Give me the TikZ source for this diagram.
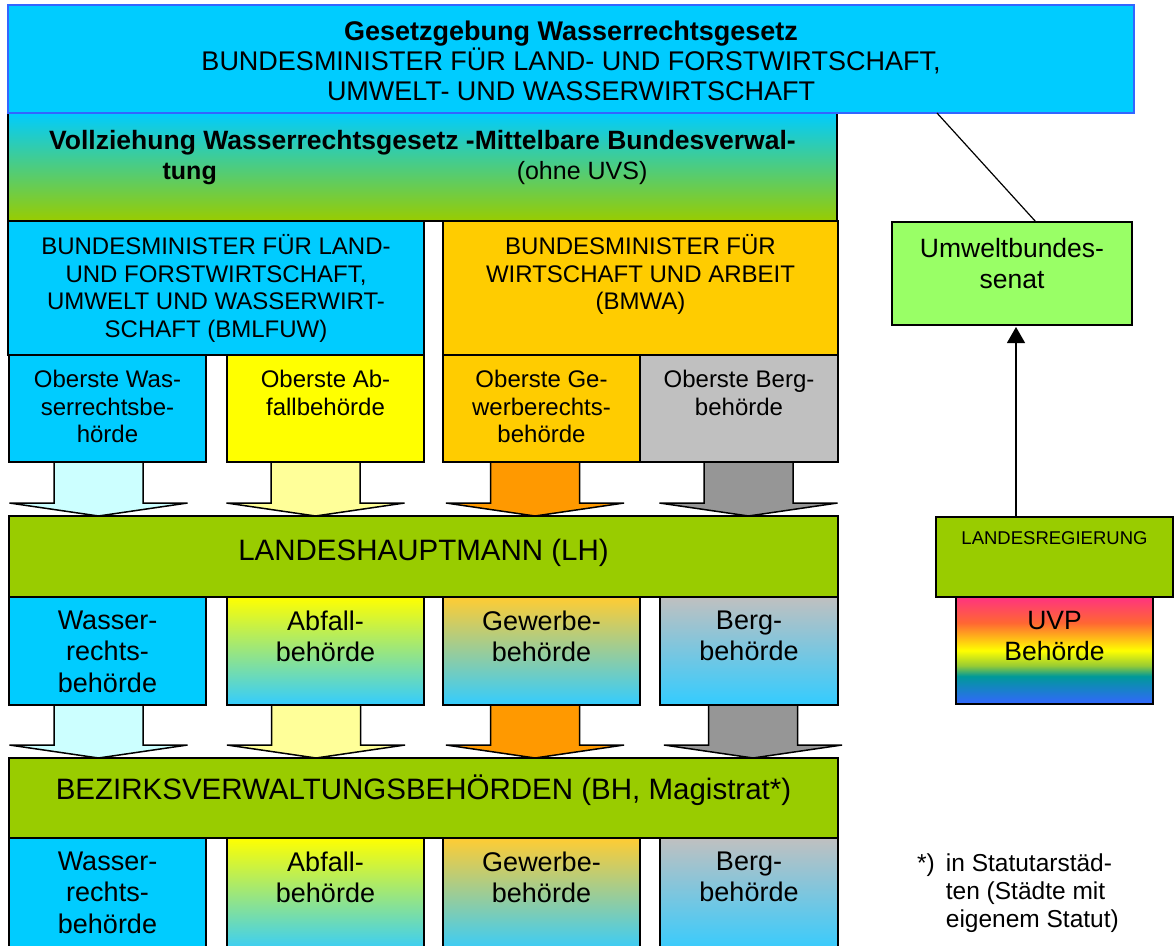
\documentclass[tikz,border=0pt]{standalone}
\usepackage{fontspec}
\setmainfont{Liberation Sans}
\usetikzlibrary{positioning,calc,arrows.meta}

\definecolor{wasserblau}{HTML}{00CCFF}
\definecolor{randblau}{HTML}{3366FF}
\definecolor{gruen}{HTML}{99CC00}
\definecolor{hellgruen}{HTML}{99FF66}
\definecolor{gelb}{HTML}{FFFF00}
\definecolor{gewerbe}{HTML}{FFCC00}
\definecolor{gewerbeoben}{HTML}{FFCC33}
\definecolor{berggrau}{HTML}{C0C0C0}
\definecolor{verlaufblau}{HTML}{33CCFF}
\definecolor{pfeilblau}{HTML}{CCFFFF}
\definecolor{pfeilgelb}{HTML}{FFFF99}
\definecolor{pfeilorange}{HTML}{FF9900}
\definecolor{pfeilgrau}{HTML}{969696}
\definecolor{rbpink}{HTML}{FF3380}
\definecolor{rborange}{HTML}{FF6633}
\definecolor{rbgruen}{HTML}{99CC33}
\definecolor{rbteal}{HTML}{009999}
\definecolor{rbblau}{HTML}{3366FF}

\pgfdeclareverticalshading{regenbogen}{100bp}{color(0bp)=(rbblau); color(25bp)=(rbblau);
  color(38bp)=(rbteal); color(43bp)=(rbgruen); color(50bp)=(gelb); color(63bp)=(rborange);
  color(75bp)=(rbpink); color(100bp)=(rbpink)}

\newcommand{\fkopf}{\fontsize{27}{30}\selectfont}
\newcommand{\fvoll}{\fontsize{26.5}{30}\selectfont}
\newcommand{\fvollzwei}{\fontsize{25}{30}\selectfont}
\newcommand{\fmittel}{\fontsize{24}{27.5}\selectfont}
\newcommand{\fgross}{\fontsize{29.5}{34}\selectfont}
\newcommand{\fzeile}{\fontsize{27}{31.5}\selectfont}
\newcommand{\frechts}{\fontsize{26.5}{31}\selectfont}
\newcommand{\fklein}{\fontsize{18.5}{21}\selectfont}
\newcommand{\ffuss}{\fontsize{24.5}{28}\selectfont}

% block arrow: from node, to node, x, colour
\newcommand{\blockpfeil}[4]{%
  \coordinate (bax) at (#3,0);
  \filldraw[fill=#4, draw=black, line width=1.5pt]
    let \p1=(#1.south -| bax), \p2=(#2.north -| bax) in
    (\x1-44.5pt,\y1) -- (\x1+44.5pt,\y1) -- (\x1+44.5pt,\y2+13pt) -- (\x1+89pt,\y2+13pt)
    -- (\p2) -- (\x1-89pt,\y2+13pt) -- (\x1-44.5pt,\y2+13pt) -- cycle;}

\begin{document}
\begin{tikzpicture}[x=1pt, y=-1pt,
    box/.style={draw=black, line width=1.5pt, anchor=north west, inner sep=0pt, outer sep=0pt},
    txt/.style={align=center, inner sep=0pt, execute at begin node=\strut},
    duenn/.style={draw=black, line width=1.2pt}]
  \useasboundingbox (0,0) rectangle (1174,945);
  \clip (0,0) rectangle (1174,945);

  % Bund
  \node[box, top color=wasserblau, bottom color=gruen, minimum width=829, minimum height=108] (vollz) at (8,113) {};
  \node[box, fill=wasserblau, draw=randblau, minimum width=1126, minimum height=108] (gesetz) at (8,5) {};
  \node[txt, font=\fkopf, below=15.7pt of gesetz.north] (gesetztxt) {\textbf{Gesetzgebung Wasserrechtsgesetz}\\BUNDESMINISTER FÜR LAND- UND FORSTWIRTSCHAFT,\\UMWELT- UND WASSERWIRTSCHAFT};
  \node[txt, font=\fvoll, below=17.5pt of vollz.north] (vollztxt) {\textbf{Vollziehung Wasserrechtsgesetz -Mittelbare Bundesverwal-}\\\fvollzwei\textbf{tung}\hspace*{300pt}(ohne UVS)\hspace*{35pt}};

  \node[box, fill=wasserblau, minimum width=416, minimum height=134] (bmlfuw) at (8,221) {};
  \node[box, fill=gewerbe, minimum width=395, minimum height=134] (bmwa) at (443,221) {};
  \node[txt, font=\fmittel, below=13.35pt of bmlfuw.north] (bmlfuwtxt) {BUNDESMINISTER FÜR LAND-\\UND FORSTWIRTSCHAFT,\\UMWELT UND WASSERWIRT-\\SCHAFT (BMLFUW)};
  \node[txt, font=\fmittel, below=13.35pt of bmwa.north] (bmwatxt) {BUNDESMINISTER FÜR\\WIRTSCHAFT UND ARBEIT\\(BMWA)};

  % oberste Behoerden
  \node[box, fill=wasserblau, minimum width=197, minimum height=107] (ow) at (9,355) {};
  \node[box, fill=gelb, minimum width=197, minimum height=107] (oa) at (227,355) {};
  \node[box, fill=gewerbe, minimum width=197, minimum height=107] (og) at (443,355) {};
  \node[box, fill=berggrau, minimum width=198, minimum height=107] (ob) at (640,355) {};
  \node[txt, font=\fmittel, below=15.35pt of ow.north] (owtxt) {Oberste Was-\\serrechtsbe-\\hörde};
  \node[txt, font=\fmittel, below=15.35pt of oa.north] (oatxt) {Oberste Ab-\\fallbehörde};
  \node[txt, font=\fmittel, below=15.35pt of og.north] (ogtxt) {Oberste Ge-\\werberechts-\\behörde};
  \node[txt, font=\fmittel, below=15.35pt of ob.north] (obtxt) {Oberste Berg-\\behörde};

  % Land
  \node[box, fill=gruen, minimum width=829, minimum height=81] (lh) at (9,516) {};
  \node[txt, font=\fgross, below=20.8pt of lh.north] (lhtxt) {LANDESHAUPTMANN (LH)};
  \blockpfeil{ow}{lh}{98.5}{pfeilblau}
  \blockpfeil{oa}{lh}{315.5}{pfeilgelb}
  \blockpfeil{og}{lh}{535}{pfeilorange}
  \blockpfeil{ob}{lh}{748.5}{pfeilgrau}

  \node[box, fill=wasserblau, minimum width=197, minimum height=108] (lw) at (9,597) {};
  \node[box, top color=gelb, bottom color=verlaufblau, minimum width=197, minimum height=108] (la) at (227,597) {};
  \node[box, top color=gewerbeoben, bottom color=verlaufblau, minimum width=197, minimum height=108] (lg) at (443,597) {};
  \node[box, top color=berggrau, bottom color=verlaufblau, minimum width=178, minimum height=108] (lb) at (660,597) {};
  \node[txt, font=\fzeile, below=13.6pt of lw.north] (lwtxt) {Wasser-\\rechts-\\behörde};
  \node[txt, font=\fzeile, below=13.6pt of la.north] (latxt) {Abfall-\\behörde};
  \node[txt, font=\fzeile, below=13.6pt of lg.north] (lgtxt) {Gewerbe-\\behörde};
  \node[txt, font=\fzeile, below=13.6pt of lb.north] (lbtxt) {Berg-\\behörde};

  % Bezirk
  \node[box, fill=gruen, minimum width=829, minimum height=80] (bh) at (9,758) {};
  \node[txt, font=\fgross, below=16.8pt of bh.north] (bhtxt) {BEZIRKSVERWALTUNGSBEHÖRDEN (BH, Magistrat*)};
  \blockpfeil{lw}{bh}{98.5}{pfeilblau}
  \blockpfeil{la}{bh}{316}{pfeilgelb}
  \blockpfeil{lg}{bh}{535}{pfeilorange}
  \blockpfeil{lb}{bh}{753}{pfeilgrau}

  \node[box, fill=wasserblau, minimum width=197, minimum height=115] (bw) at (9,838) {};
  \node[box, top color=gelb, bottom color=verlaufblau, minimum width=197, minimum height=115] (ba) at (227,838) {};
  \node[box, top color=gewerbeoben, bottom color=verlaufblau, minimum width=197, minimum height=115] (bg) at (443,838) {};
  \node[box, top color=berggrau, bottom color=verlaufblau, minimum width=178, minimum height=115] (bb) at (660,838) {};
  \node[txt, font=\fzeile, below=13.6pt of bw.north] (bwtxt) {Wasser-\\rechts-\\behörde};
  \node[txt, font=\fzeile, below=13.6pt of ba.north] (batxt) {Abfall-\\behörde};
  \node[txt, font=\fzeile, below=13.6pt of bg.north] (bgtxt) {Gewerbe-\\behörde};
  \node[txt, font=\fzeile, below=13.6pt of bb.north] (bbtxt) {Berg-\\behörde};

  % UVP
  \node[box, fill=hellgruen, minimum width=240, minimum height=103] (ubs) at (892,222) {};
  \node[txt, font=\frechts, below=15.8pt of ubs.north] (ubstxt) {Umweltbundes-\\senat};
  \node[box, fill=gruen, minimum width=237, minimum height=80] (lreg) at (936,517) {};
  \node[txt, font=\fklein, below=12.9pt of lreg.north] (lregtxt) {LANDESREGIERUNG};
  \node[box, shading=regenbogen, minimum width=197, minimum height=107] (uvp) at (956,597) {};
  \node[txt, font=\frechts, below=13.8pt of uvp.north] (uvptxt) {UVP\\Behörde};

  \coordinate (lnk) at (937,0);
  \coordinate (pfx) at (1016,0);
  \draw[duenn] (gesetz.south -| lnk) -- ([xshift=24pt]ubs.north);
  \draw[duenn, -{Triangle[width=18pt,length=16pt]}, shorten >=2pt] (lreg.north -| pfx) -- (ubs.south -| pfx);

  \node[anchor=north west, inner sep=0pt, font=\ffuss] (fussnote) at (917,852)
    {\begin{tabular}{@{}l@{\hspace{11pt}}l@{}}*) & in Statutarstäd-\\ & ten (Städte mit\\ & eigenem Statut)\end{tabular}};
\end{tikzpicture}
\end{document}
